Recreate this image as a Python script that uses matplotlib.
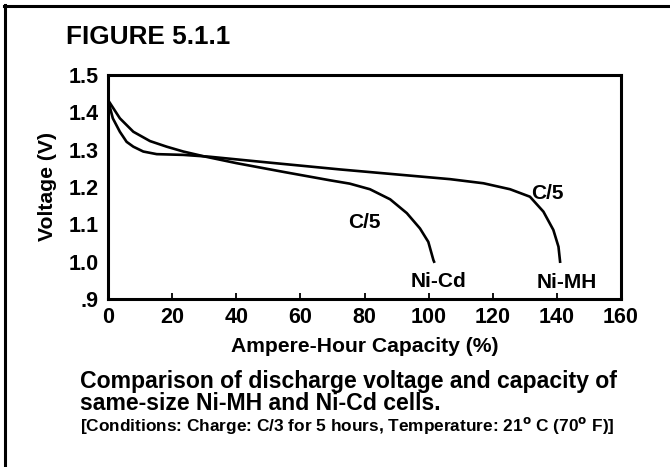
import matplotlib
matplotlib.use("Agg")
import matplotlib.pyplot as plt
from matplotlib.lines import Line2D

# Discharge curves (capacity %, voltage V)
ni_cd_cap = [0, 3.7, 7.9, 13.1, 18.3, 23.5, 30.0, 40.0, 55.0, 69.2, 75.4,
             81.7, 88.0, 93.2, 97.3, 99.9, 101.5, 101.7]
ni_cd_v = [1.433, 1.384, 1.348, 1.323, 1.308, 1.295, 1.282, 1.264, 1.240,
           1.218, 1.209, 1.194, 1.167, 1.130, 1.089, 1.053, 1.004, 1.0]

ni_mh_cap = [0, 1.5, 3.7, 5.8, 7.9, 11.0, 15.2, 23.5, 31.8, 49.5, 72.4,
             106.7, 117.1, 125.4, 131.6, 135.8, 138.9, 140.5, 141.0]
ni_mh_v = [1.433, 1.384, 1.348, 1.321, 1.308, 1.295, 1.288, 1.286, 1.281,
           1.266, 1.247, 1.221, 1.210, 1.194, 1.174, 1.134, 1.085, 1.040, 1.0]

x_ticks = [0, 20, 40, 60, 80, 100, 120, 140, 160]
y_ticks = [0.9, 1.0, 1.1, 1.2, 1.3, 1.4, 1.5]
y_tick_labels = [".9", "1.0", "1.1", "1.2", "1.3", "1.4", "1.5"]

plt.rcParams["font.family"] = ["Liberation Sans", "DejaVu Sans"]
plt.rcParams["font.weight"] = "bold"
plt.rcParams["mathtext.default"] = "bf"

W, H = 670, 467
fig = plt.figure(figsize=(W / 100, H / 100), dpi=100)


def fx(px):
    return px / W


def fy(py):
    return 1 - py / H


# cropped outer box (top and left edges only)
fig.add_artist(Line2D([fx(4), fx(672)], [fy(5.5), fy(5.5)], color="black",
                      lw=2.2, transform=fig.transFigure))
fig.add_artist(Line2D([fx(4.5), fx(4.5)], [fy(5), fy(470)], color="black",
                      lw=2.2, transform=fig.transFigure))

ax = fig.add_axes([fx(108), fy(299), (621 - 108) / W, (299 - 75) / H])
ax.plot(ni_cd_cap, ni_cd_v, color="black", lw=1.9, solid_joinstyle="round")
ax.plot(ni_mh_cap, ni_mh_v, color="black", lw=1.9, solid_joinstyle="round")

ax.set_xlim(0, 160)
ax.set_ylim(0.9, 1.5)
ax.set_xticks(x_ticks)
ax.set_xticklabels([str(t) for t in x_ticks], fontsize=15.5, fontweight="bold")
ax.set_yticks(y_ticks)
ax.set_yticklabels(y_tick_labels, fontsize=15.5, fontweight="bold")
ax.tick_params(axis="x", direction="in", length=4, width=1.3, pad=6)
ax.tick_params(axis="y", length=0, pad=7)
for sp in ax.spines.values():
    sp.set_linewidth(2.2)

ax.set_xlabel("Ampere-Hour Capacity (%)", fontsize=15.2, fontweight="bold",
              labelpad=6)
ax.set_ylabel("Voltage (V)", fontsize=15.2, fontweight="bold", labelpad=8)

# curve annotations
ax.text(80.1, 1.105, "C/5", fontsize=15, fontweight="bold",
        ha="center", va="center")
ax.text(137.1, 1.183, "C/5", fontsize=15, fontweight="bold",
        ha="center", va="center")
ax.text(103.0, 0.946, "Ni-Cd", fontsize=15, fontweight="bold",
        ha="center", va="center")
ax.text(143.0, 0.944, "Ni-MH", fontsize=15, fontweight="bold",
        ha="center", va="center")

fig.text(fx(66), fy(44), "FIGURE 5.1.1", fontsize=18.8, fontweight="bold",
         ha="left", va="baseline")

fig.text(fx(80), fy(388), "Comparison of discharge voltage and capacity of",
         fontsize=16.6, fontweight="bold", ha="left", va="baseline")
fig.text(fx(80), fy(410), "same-size Ni-MH and Ni-Cd cells.",
         fontsize=16.6, fontweight="bold", ha="left", va="baseline")
fig.text(fx(80), fy(431.5),
         "[Conditions: Charge: C/3 for 5 hours, Temperature: 21$^{o}$ C (70$^{o}$ F)]",
         fontsize=12.4, fontweight="bold", ha="left", va="baseline")

fig.savefig("out.png", dpi=100)
